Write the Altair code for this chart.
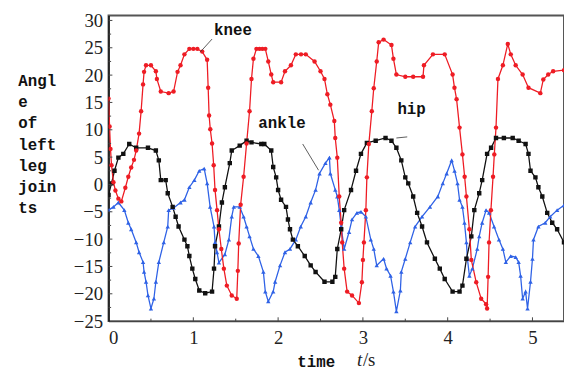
import altair as alt
import pandas as pd

# ---------------- data ----------------
knee_t = [0.0, 0.012, 0.023, 0.035, 0.058, 0.081, 0.116, 0.151, 0.198, 0.233, 0.267, 0.30, 0.326,
          0.36, 0.384, 0.407, 0.419, 0.442, 0.5, 0.558, 0.57, 0.616, 0.709, 0.767, 0.814, 0.849,
          0.895, 0.953, 1.0, 1.047, 1.105, 1.163, 1.175, 1.186, 1.2, 1.221, 1.24, 1.256, 1.28, 1.302,
          1.33, 1.36, 1.395, 1.453, 1.512, 1.525, 1.535, 1.558, 1.593, 1.628, 1.663, 1.686, 1.709,
          1.744, 1.78, 1.814, 1.849, 1.884, 1.919, 1.942, 2.035, 2.081, 2.151, 2.209, 2.27, 2.326,
          2.43, 2.5, 2.547, 2.581, 2.616, 2.663, 2.674, 2.698, 2.721, 2.744, 2.756, 2.779, 2.814,
          2.872, 2.953, 2.988, 3.0, 3.012, 3.035, 3.047, 3.07, 3.105, 3.128, 3.163, 3.186, 3.244,
          3.337, 3.36, 3.395, 3.5, 3.593, 3.709, 3.72, 3.826, 3.965, 4.058, 4.08, 4.105, 4.14, 4.174,
          4.2, 4.221, 4.256, 4.279, 4.337, 4.395, 4.453, 4.465, 4.477, 4.488, 4.51, 4.535, 4.55,
          4.57, 4.593, 4.651, 4.709, 4.744, 4.802, 4.884, 4.953, 5.093, 5.128, 5.186, 5.244, 5.372]
knee_v = [15.7, 10.6, 6.5, 3.5, 0.4, -1.1, -2.6, -3.1, -0.6, 1.4, 3.1, 4.5, 6.2,
          9.3, 13.4, 18.3, 20.6, 21.8, 21.8, 20.7, 19.3, 17.0, 16.7, 17.0, 20.6, 21.8,
          23.8, 24.8, 24.8, 24.8, 24.3, 22.8, 17.7, 12.6, 10.1, 7.5, 3.5, -1.0, -4.7, -8.2,
          -11.8, -15.4, -18.5, -20.3, -20.9, -15.8, -10.8, -3.7, 1.4, 7.5, 13.4, 19.3, 23.0,
          24.8, 24.8, 24.8, 24.8, 22.5, 20.1, 18.7, 18.7, 20.7, 21.8, 23.8, 23.8, 23.8,
          22.5, 20.7, 19.3, 16.5, 14.6, 11.6, 8.5, 4.9, -2.2, -7.0, -10.6, -15.4, -19.6,
          -20.3, -21.7, -17.9, -13.8, -10.6, -4.7, 1.3, 7.4, 13.4, 17.6, 22.5, 26.0, 26.5,
          25.5, 23.0, 20.1, 19.7, 19.7, 19.7, 21.8, 23.8, 23.8, 20.1, 17.7, 15.6, 10.4, 5.5,
          1.4, -2.2, -8.2, -13.8, -17.9, -20.9, -21.9, -22.7, -16.9, -10.6, -4.7, 1.4, 5.5,
          10.4, 19.3, 21.8, 25.7, 23.8, 21.8, 20.1, 17.7, 16.7, 19.2, 20.1, 20.7, 20.9]

hip_t = [0.0, 0.035, 0.07, 0.116, 0.174, 0.244, 0.326, 0.465, 0.558, 0.593, 0.616, 0.674, 0.698,
         0.756, 0.791, 0.826, 0.895, 0.93, 0.953, 0.988, 1.023, 1.07, 1.14, 1.221, 1.244, 1.256,
         1.302, 1.337, 1.372, 1.43, 1.453, 1.547, 1.628, 1.686, 1.802, 1.837, 1.919, 1.942, 1.977,
         2.0, 2.035, 2.093, 2.116, 2.14, 2.174, 2.233, 2.314, 2.384, 2.442, 2.547, 2.64, 2.674,
         2.698, 2.744, 2.779, 2.86, 2.919, 2.977, 3.047, 3.151, 3.267, 3.337, 3.395, 3.453, 3.5,
         3.535, 3.593, 3.64, 3.698, 3.756, 3.849, 3.907, 3.965, 4.058, 4.14, 4.174, 4.221, 4.279,
         4.314, 4.372, 4.407, 4.465, 4.512, 4.57, 4.663, 4.767, 4.837, 4.919, 4.953, 4.977, 5.035,
         5.07, 5.116, 5.174, 5.233, 5.291, 5.372]
hip_v = [-1.9, 0.2, 2.5, 4.9, 5.6, 7.4, 6.7, 6.7, 6.2, 4.4, 0.8, 0.8, -1.6,
         -4.1, -5.9, -7.7, -10.1, -11.3, -13.1, -15.4, -17.3, -19.4, -19.9, -19.6, -15.4, -11.3,
         -7.7, -3.3, -0.5, 3.9, 6.2, 7.1, 8.0, 7.7, 7.4, 7.4, 6.2, 3.2, 1.3,
         -1.0, -2.8, -4.1, -6.4, -8.2, -10.1, -11.3, -13.1, -14.8, -16.0, -17.8, -17.8, -16.9,
         -11.8, -8.2, -4.7, -1.0, 2.5, 5.6, 7.6, 8.0, 8.5, 8.0, 6.7, 4.4, 1.3,
         0.2, -2.2, -5.2, -7.7, -10.6, -13.6, -15.4, -17.3, -19.6, -19.6, -18.5, -13.6, -9.5,
         -4.7, -1.6, 0.8, 5.6, 6.7, 8.5, 8.5, 8.5, 8.0, 7.4, 5.6, 2.5, 1.3,
         -0.5, -2.2, -5.2, -7.0, -8.2, -10.6]

ankle_t = [0.0, 0.058, 0.116, 0.186, 0.233, 0.267, 0.326, 0.36, 0.407, 0.419, 0.442, 0.465, 0.5,
           0.535, 0.558, 0.593, 0.651, 0.698, 0.709, 0.767, 0.849, 0.895, 0.953, 1.012, 1.07, 1.128,
           1.163, 1.198, 1.244, 1.256, 1.279, 1.302, 1.372, 1.419, 1.453, 1.477, 1.547, 1.593, 1.628,
           1.663, 1.709, 1.767, 1.826, 1.849, 1.884, 1.942, 1.965, 2.023, 2.081, 2.14, 2.209, 2.267,
           2.326, 2.384, 2.442, 2.488, 2.558, 2.605, 2.616, 2.674, 2.698, 2.721, 2.744, 2.779, 2.837,
           2.872, 2.93, 2.977, 3.035, 3.093, 3.128, 3.163, 3.244, 3.279, 3.326, 3.36, 3.395, 3.442,
           3.453, 3.5, 3.558, 3.616, 3.698, 3.791, 3.884, 3.942, 3.988, 4.047, 4.081, 4.116, 4.14,
           4.174, 4.198, 4.221, 4.233, 4.256, 4.291, 4.349, 4.372, 4.407, 4.453, 4.488, 4.547, 4.605,
           4.651, 4.686, 4.744, 4.802, 4.837, 4.86, 4.884, 4.919, 4.942, 4.977, 5.0, 5.012, 5.07,
           5.151, 5.209, 5.291, 5.372]
ankle_v = [-4.7, -4.1, -3.3, -4.7, -7.0, -8.2, -10.6, -12.4, -14.2, -16.0, -17.8, -20.3, -22.7,
           -20.9, -17.8, -14.2, -10.6, -7.7, -4.7, -4.3, -3.3, -2.8, -0.5, 0.8, 2.5, 2.9,
           0.2, -4.1, -7.7, -10.6, -12.4, -14.3, -12.8, -10.1, -5.9, -4.1, -4.1, -5.9, -7.7,
           -9.5, -11.8, -13.1, -16.0, -19.6, -21.4, -19.6, -17.8, -14.8, -12.4, -11.8, -10.1, -7.7,
           -5.9, -3.3, -1.0, 2.0, 3.9, 4.9, 2.0, -1.0, -2.2, -4.7, -7.7, -11.8, -8.7,
           -6.4, -5.2, -5.0, -5.9, -10.1, -11.8, -14.8, -13.6, -15.4, -16.7, -19.6, -23.2, -19.4,
           -16.0, -13.6, -10.6, -7.7, -5.9, -4.1, -2.2, 0.2, 2.0, 4.4, 2.5, 0.2, -2.8,
           -4.1, -7.0, -10.6, -13.6, -16.7, -15.4, -11.8, -9.5, -7.0, -4.7, -5.2, -7.7, -10.1,
           -11.8, -14.2, -13.1, -13.3, -14.2, -16.7, -20.9, -19.6, -22.7, -17.8, -13.6, -10.1, -7.7,
           -7.0, -5.9, -4.7, -3.8]

joints = ["knee", "hip", "ankle"]
colors = ["#ee1c24", "#111111", "#2f62e6"]
shapes = ["circle", "square", "triangle-up"]
sizes = [20, 20, 26]

x_ticks = [0, 1, 2, 3, 4, 5]
y_ticks = [-25, -20, -15, -10, -5, 0, 5, 10, 15, 20, 25, 30]
x_minor = [0.5, 1, 1.5, 2, 2.5, 3, 3.5, 4, 4.5, 5]
y_minor = [-22.5, -20, -17.5, -15, -12.5, -10, -7.5, -5, -2.5, 0, 2.5, 5, 7.5,
           10, 12.5, 15, 17.5, 20, 22.5, 25, 27.5, 30]

y_title = ["Angl", "e", "of", "left", "leg", "join", "ts"]

ann_text = ["knee", "ankle", "hip"]
ann_t = [1.244, 1.767, 3.407]
ann_v = [27.3, 10.3, 12.9]
lead_t = [1.221, 2.29, 3.523]
lead_v = [26.6, 7.4, 8.7]
lead_t2 = [1.081, 2.477, 3.395]
lead_v2 = [24.2, 2.6, 8.5]

# ---------------- build tables ----------------
rows = []
for name, ts, vs in [("ankle", ankle_t, ankle_v), ("hip", hip_t, hip_v), ("knee", knee_t, knee_v)]:
    for i, (a, b) in enumerate(zip(ts, vs)):
        rows.append({"t": a, "v": b, "joint": name, "i": i})
df = pd.DataFrame(rows)

ann = pd.DataFrame({"text": ann_text, "t": ann_t, "v": ann_v})
lead = pd.DataFrame({"t": lead_t, "v": lead_v, "t2": lead_t2, "v2": lead_v2})
xt = pd.DataFrame({"t": x_minor})
xt["y0"] = -25.0
xt["y1"] = [-24.3 if float(v).is_integer() else -24.55 for v in x_minor]
yt = pd.DataFrame({"v": y_minor})
yt["x0"] = 0.0
yt["x1"] = [0.045 if float(v) % 5 == 0 else 0.03 for v in y_minor]

XMAX = 5.372
YMIN, YMAX = -25, 30.9
xs = alt.Scale(domain=[0, XMAX], nice=False, zero=False)
ys = alt.Scale(domain=[YMIN, YMAX], nice=False, zero=False)

mono = "Liberation Mono"
serif = "Liberation Serif"

x_axis = alt.Axis(values=x_ticks, format="d", ticks=False, grid=False, labelOverlap=False,
                  labelFont=serif, labelFontSize=19, labelColor="#222", labelPadding=8,
                  domainColor="#444", domainWidth=1.5,
                  title="time", titleFont=mono, titleFontSize=16, titleFontWeight="bold",
                  titleColor="#111", titleAlign="left", titleBaseline="alphabetic",
                  titleX=191, titleY=46)
y_axis = alt.Axis(values=y_ticks, format="d", ticks=False, grid=False, labelOverlap=False,
                  labelFont=serif, labelFontSize=19, labelColor="#222", labelPadding=6,
                  domainColor="#111", domainWidth=1.5,
                  title=y_title, titleFont=mono, titleFontSize=16, titleFontWeight="bold",
                  titleColor="#111", titleAngle=0, titleAlign="left", titleBaseline="alphabetic",
                  titleX=-92, titleY=71, titleLineHeight=21.5)

color = alt.Color("joint:N", scale=alt.Scale(domain=joints, range=colors), legend=None)
shape = alt.Shape("joint:N", scale=alt.Scale(domain=joints, range=shapes), legend=None)
size = alt.Size("joint:N", scale=alt.Scale(domain=joints, range=sizes), legend=None)

base = alt.Chart(df)
lines = base.mark_line(strokeWidth=1.3, clip=True).encode(
    x=alt.X("t:Q", scale=xs, axis=x_axis),
    y=alt.Y("v:Q", scale=ys, axis=y_axis),
    color=color, detail="joint:N", order="i:Q")
points = base.mark_point(filled=True, opacity=1, clip=True).encode(
    x=alt.X("t:Q", scale=xs, axis=x_axis), y=alt.Y("v:Q", scale=ys, axis=y_axis),
    color=color, shape=shape, size=size)

xtick = alt.Chart(xt).mark_rule(color="#444", strokeWidth=1).encode(
    x=alt.X("t:Q", scale=xs, axis=x_axis), y=alt.Y("y0:Q", scale=ys, axis=y_axis), y2="y1:Q")
ytick = alt.Chart(yt).mark_rule(color="#444", strokeWidth=1).encode(
    y=alt.Y("v:Q", scale=ys, axis=y_axis), x=alt.X("x0:Q", scale=xs, axis=x_axis), x2="x1:Q")

lead_rules = alt.Chart(lead).mark_rule(color="#333", strokeWidth=0.8).encode(
    x=alt.X("t:Q", scale=xs, axis=x_axis), y=alt.Y("v:Q", scale=ys, axis=y_axis),
    x2="t2:Q", y2="v2:Q")
ann_marks = alt.Chart(ann).mark_text(font=mono, fontSize=16, fontWeight="bold", color="#111",
                                     align="left", baseline="alphabetic").encode(
    x=alt.X("t:Q", scale=xs, axis=x_axis), y=alt.Y("v:Q", scale=ys, axis=y_axis), text="text:N")

unit_t = alt.Chart(pd.DataFrame({"s": ["t"]})).mark_text(
    font=serif, fontSize=19, fontStyle="italic", color="#222", align="left",
    baseline="alphabetic").encode(x=alt.value(252), y=alt.value(356), text="s:N")
unit_s = alt.Chart(pd.DataFrame({"s": ["/s"]})).mark_text(
    font=serif, fontSize=19, color="#222", align="left",
    baseline="alphabetic").encode(x=alt.value(258), y=alt.value(356), text="s:N")

chart = alt.layer(lines, points, xtick, ytick, lead_rules, ann_marks, unit_t, unit_s).properties(
    width=462, height=310,
    padding={"left": 102, "top": 5, "right": 0, "bottom": 51},
    autosize=alt.AutoSizeParams(type="none"),
    background="white",
).configure_view(stroke="#555555", strokeWidth=2).configure_axis(labelOverlap=False)

chart.save("out.html", embed_options={"renderer": "svg", "actions": False})
